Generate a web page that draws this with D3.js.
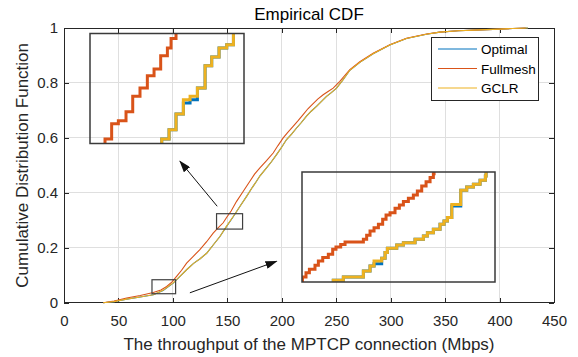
<!DOCTYPE html>
<html>
<head>
<meta charset="utf-8">
<script src="https://cdn.jsdelivr.net/npm/d3@7"></script>
<style>
  body { margin: 0; background: #fff; }
  text { font-family: "Liberation Sans", Arial, Helvetica, sans-serif; }
</style>
</head>
<body>
<div id="chart"></div>
<script>
// ---- main curves: throughput (Mbps) -> empirical CDF
const fullmeshX = [36, 46, 57.5, 70, 82, 89, 94.3, 99, 103.4, 108, 112.6, 118.5, 124.8, 131, 137, 141.5, 146.2, 149.3, 153.5, 158.5, 164.5, 170.7, 175, 179.9, 186, 192.1, 196.5, 201.3, 205.5, 210.4, 215, 219.6, 224, 228.8, 233, 238, 242.5, 247.2, 253.3, 258, 262.5, 271.7, 283.9, 299.2, 314.5, 332.9, 345.1, 362, 382, 400, 412, 424];
const fullmeshF = [0, 0.006, 0.017, 0.026, 0.037, 0.046, 0.059, 0.075, 0.096, 0.118, 0.144, 0.168, 0.193, 0.222, 0.253, 0.272, 0.291, 0.31, 0.334, 0.369, 0.405, 0.442, 0.468, 0.491, 0.517, 0.545, 0.572, 0.6, 0.62, 0.642, 0.663, 0.685, 0.706, 0.725, 0.741, 0.757, 0.769, 0.781, 0.806, 0.828, 0.848, 0.877, 0.908, 0.939, 0.963, 0.978, 0.985, 0.99, 0.993, 0.996, 0.998, 1];

const gclrX = [36, 46, 57.5, 70, 82, 91, 100.3, 106, 112.6, 119, 125, 131, 137, 143.2, 149, 155.4, 161.5, 167.7, 173, 176.8, 180, 186, 190.5, 195.2, 200, 204.4, 209, 213.6, 218, 222.7, 227, 231.9, 236.5, 241.1, 245.5, 250.3, 256, 262.5, 271.7, 283.9, 299.2, 314.5, 332.9, 345.1, 362, 382, 400, 412, 426];
const gclrF = [0, 0.004, 0.013, 0.021, 0.029, 0.045, 0.072, 0.094, 0.12, 0.143, 0.16, 0.18, 0.21, 0.241, 0.277, 0.314, 0.35, 0.387, 0.42, 0.442, 0.462, 0.491, 0.513, 0.539, 0.567, 0.594, 0.614, 0.636, 0.656, 0.679, 0.697, 0.715, 0.733, 0.751, 0.765, 0.781, 0.81, 0.846, 0.875, 0.906, 0.938, 0.962, 0.977, 0.985, 0.99, 0.993, 0.996, 0.998, 1];

const optimalX = [36, 46, 57.5, 70, 82, 91, 100.3, 106, 112.6, 119, 125, 131, 137, 143.2, 149, 155.4, 161.5, 167.7, 173, 176.8, 180, 186, 190.5, 195.2, 200, 204.4, 209, 213.6, 218, 222.7, 227, 231.9, 236.5, 241.1, 245.5, 250.3, 256, 262.5, 271.7, 283.9, 299.2, 314.5, 332.9, 345.1, 362, 382, 400, 412, 426];
const optimalF = [0, 0.004, 0.013, 0.021, 0.029, 0.044, 0.071, 0.094, 0.12, 0.143, 0.16, 0.18, 0.21, 0.241, 0.276, 0.313, 0.35, 0.387, 0.42, 0.442, 0.462, 0.491, 0.513, 0.539, 0.567, 0.594, 0.614, 0.636, 0.656, 0.679, 0.697, 0.715, 0.733, 0.751, 0.765, 0.781, 0.81, 0.846, 0.875, 0.906, 0.938, 0.962, 0.977, 0.985, 0.99, 0.993, 0.996, 0.998, 1];

const seriesNames = ['Optimal', 'Fullmesh', 'GCLR'];
const seriesColors = ['#0072BD', '#D95319', '#EDB120'];

const xTicks = [0, 50, 100, 150, 200, 250, 300, 350, 400, 450];
const yTicks = [0, 0.2, 0.4, 0.6, 0.8, 1];
const yTickLabels = ['0', '0.2', '0.4', '0.6', '0.8', '1'];

// zoomed regions [xMin, xMax, fMin, fMax]
const zoomUpper = [140.1, 164.0, 0.268, 0.324];
const zoomLower = [80.8, 102.5, 0.0327, 0.0836];

// ---- step data shown in the upper zoom
const upperFullmeshX = [141.5, 142.43, 143.46, 144.5, 145.69, 146.73, 147.86, 149.0, 150.04, 151.07, 152.11, 152.68, 153.45];
const upperFullmeshF = [0.266, 0.2703, 0.2781, 0.2796, 0.2842, 0.292, 0.2963, 0.3025, 0.3059, 0.3127, 0.3166, 0.3214, 0.326];
const upperGclrX = [150.5, 151.23, 152.37, 153.45, 154.59, 155.63, 156.77, 157.96, 158.99, 160.13, 161.32, 162.36];
const upperGclrF = [0.266, 0.2703, 0.275, 0.283, 0.2903, 0.292, 0.2963, 0.3076, 0.312, 0.3166, 0.3183, 0.326];
const upperOptimalX = [150.5, 151.23, 152.37, 153.45, 154.59, 155.63, 156.77, 157.96, 158.99, 160.13, 161.32, 162.36];
const upperOptimalF = [0.266, 0.2703, 0.275, 0.283, 0.2886, 0.2903, 0.2963, 0.3076, 0.312, 0.3166, 0.3183, 0.326];

// ---- step data shown in the lower zoom
const lowerFullmeshX = [80.5, 80.85, 81.25, 81.63, 82.26, 82.64, 83.13, 83.76, 84.25, 84.62, 85.15, 85.64, 87.7, 88.07, 88.45, 88.9, 89.39, 89.87, 90.25, 90.7, 91.26, 91.75, 92.2, 92.76, 93.32, 93.77, 94.26, 94.75, 95.2, 95.57, 95.65];
const lowerFullmeshF = [0.032, 0.035, 0.037, 0.0386, 0.0404, 0.0424, 0.044, 0.0455, 0.0478, 0.0489, 0.0501, 0.0512, 0.0525, 0.0543, 0.0563, 0.0578, 0.0594, 0.0617, 0.0637, 0.0648, 0.0668, 0.0683, 0.0699, 0.0714, 0.073, 0.0748, 0.0771, 0.0791, 0.081, 0.0828, 0.0848];
const lowerGclrX = [84.0, 84.32, 85.45, 87.7, 88.45, 88.9, 89.76, 90.14, 90.4, 91.45, 92.2, 93.51, 94.45, 94.9, 95.57, 96.32, 96.77, 97.15, 97.64, 98.65, 99.32, 100.07, 100.82, 101.42, 101.5];
const lowerGclrF = [0.031, 0.0335, 0.035, 0.0378, 0.0401, 0.0424, 0.0437, 0.0463, 0.0483, 0.0498, 0.0509, 0.0525, 0.054, 0.0555, 0.0571, 0.0594, 0.0609, 0.0625, 0.0686, 0.0751, 0.0767, 0.0779, 0.0798, 0.0818, 0.0848];
const lowerOptimalX = [84.0, 84.32, 85.45, 87.7, 88.45, 88.9, 89.76, 90.14, 90.4, 91.45, 92.2, 93.51, 94.45, 94.9, 95.57, 96.32, 96.77, 97.15, 97.64, 98.65, 99.32, 100.07, 100.82, 101.42, 101.5];
const lowerOptimalF = [0.031, 0.0335, 0.035, 0.0378, 0.0401, 0.0412, 0.0437, 0.0463, 0.0483, 0.0498, 0.0509, 0.0525, 0.054, 0.0555, 0.0571, 0.0594, 0.0609, 0.0625, 0.0679, 0.0751, 0.0767, 0.0779, 0.0798, 0.0818, 0.0848];

// arrows [tailX, tailF, headX, headF] in main data units
const arrowUpper = [140.7, 0.351, 106.5, 0.515];
const arrowLower = [115.6, 0.036, 195.2, 0.151];

const width = 578;
const height = 357;
const margin = { top: 28, right: 24, bottom: 54, left: 64 };
const plotW = width - margin.left - margin.right;
const plotH = height - margin.top - margin.bottom - 0.3;
const axisColor = '#262626';
const gridColor = '#dfdfdf';

const svg = d3.select('#chart').append('svg')
  .attr('width', width)
  .attr('height', height);

const x = d3.scaleLinear().domain([0, 450]).range([margin.left, margin.left + plotW]);
const y = d3.scaleLinear().domain([0, 1]).range([margin.top + plotH, margin.top]);

// grid
const grid = svg.append('g').attr('stroke', gridColor).attr('shape-rendering', 'crispEdges');
grid.selectAll('.gx').data(xTicks.slice(1, -1)).join('line')
  .attr('x1', d => x(d)).attr('x2', d => x(d))
  .attr('y1', y(0)).attr('y2', y(1));
grid.selectAll('.gy').data(yTicks.slice(1, -1)).join('line')
  .attr('x1', x(0)).attr('x2', x(450))
  .attr('y1', d => y(d)).attr('y2', d => y(d));

// axes, ticks pointing inside on all four sides
function styleAxis(g, showText) {
  g.select('.domain').remove();
  g.attr('color', axisColor)
    .attr('font-family', '"Liberation Sans", Arial, sans-serif')
    .attr('font-size', 15);
  g.selectAll('line').attr('shape-rendering', 'crispEdges');
  if (!showText) g.selectAll('text').remove();
}
svg.append('g')
  .attr('transform', `translate(0,${y(0)})`)
  .call(d3.axisBottom(x).tickValues(xTicks).tickSizeInner(-5).tickSizeOuter(0).tickPadding(13))
  .call(g => styleAxis(g, true));
svg.append('g')
  .attr('transform', `translate(0,${y(1)})`)
  .call(d3.axisTop(x).tickValues(xTicks).tickSizeInner(-5).tickSizeOuter(0))
  .call(g => styleAxis(g, false));
svg.append('g')
  .attr('transform', `translate(${x(0)},0)`)
  .call(d3.axisLeft(y).tickValues(yTicks).tickFormat((d, i) => yTickLabels[i]).tickSizeInner(-5).tickSizeOuter(0).tickPadding(6))
  .call(g => styleAxis(g, true));
svg.append('g')
  .attr('transform', `translate(${x(450)},0)`)
  .call(d3.axisRight(y).tickValues(yTicks).tickSizeInner(-5).tickSizeOuter(0))
  .call(g => styleAxis(g, false));

svg.append('rect')
  .attr('x', x(0)).attr('y', y(1))
  .attr('width', x(450) - x(0)).attr('height', y(0) - y(1))
  .attr('fill', 'none').attr('stroke', axisColor)
  .attr('shape-rendering', 'crispEdges');

// labels
svg.append('text')
  .attr('x', (x(0) + x(450)) / 2).attr('y', 20)
  .attr('text-anchor', 'middle').attr('font-size', 17).attr('fill', '#000')
  .text('Empirical CDF');
svg.append('text')
  .attr('x', (x(0) + x(450)) / 2).attr('y', 350)
  .attr('text-anchor', 'middle').attr('font-size', 17).attr('fill', axisColor)
  .text('The throughput of the MPTCP connection (Mbps)');
svg.append('text')
  .attr('transform', `translate(28,${(y(0) + y(1)) / 2}) rotate(-90)`)
  .attr('text-anchor', 'middle').attr('font-size', 17).attr('fill', axisColor)
  .text('Cumulative Distribution Function');

// main curves
const toPoints = (xs, fs) => xs.map((v, i) => [v, fs[i]]);
const mainSeries = [
  toPoints(optimalX, optimalF),
  toPoints(fullmeshX, fullmeshF),
  toPoints(gclrX, gclrF)
];
const mainLine = d3.line().x(d => x(d[0])).y(d => y(d[1]));
svg.append('g').selectAll('path').data(mainSeries).join('path')
  .attr('d', mainLine)
  .attr('fill', 'none')
  .attr('stroke', (d, i) => seriesColors[i])
  .attr('stroke-width', 1.1);

// zoom rectangles on the main plot
svg.append('g').selectAll('rect').data([zoomUpper, zoomLower]).join('rect')
  .attr('x', d => x(d[0])).attr('y', d => y(d[3]))
  .attr('width', d => x(d[1]) - x(d[0]))
  .attr('height', d => y(d[2]) - y(d[3]))
  .attr('fill', 'none').attr('stroke', '#404040').attr('stroke-width', 1.2);

// arrows
svg.append('defs').append('marker')
  .attr('id', 'head')
  .attr('viewBox', '0 0 12 8')
  .attr('refX', 11).attr('refY', 4)
  .attr('markerWidth', 12).attr('markerHeight', 8)
  .attr('markerUnits', 'userSpaceOnUse')
  .attr('orient', 'auto')
  .append('path').attr('d', 'M0,0 L12,4 L0,8 Z').attr('fill', '#111');
svg.append('g').selectAll('line').data([arrowUpper, arrowLower]).join('line')
  .attr('x1', d => x(d[0])).attr('y1', d => y(d[1]))
  .attr('x2', d => x(d[2])).attr('y2', d => y(d[3]))
  .attr('stroke', '#111').attr('stroke-width', 1)
  .attr('marker-end', 'url(#head)');

// insets
function drawInset(id, box, zoom, series) {
  const ix = d3.scaleLinear().domain([zoom[0], zoom[1]]).range([box.left, box.left + box.w]);
  const iy = d3.scaleLinear().domain([zoom[2], zoom[3]]).range([box.top + box.h, box.top]);
  svg.append('clipPath').attr('id', id)
    .append('rect').attr('x', box.left).attr('y', box.top).attr('width', box.w).attr('height', box.h);
  const g = svg.append('g');
  const stepLine = d3.line().x(d => ix(d[0])).y(d => iy(d[1])).curve(d3.curveStepAfter);
  g.append('g').attr('clip-path', `url(#${id})`)
    .selectAll('path').data(series).join('path')
    .attr('d', stepLine)
    .attr('fill', 'none')
    .attr('stroke', (d, i) => seriesColors[i])
    .attr('stroke-width', 3);
  g.append('rect')
    .attr('x', box.left).attr('y', box.top).attr('width', box.w).attr('height', box.h)
    .attr('fill', 'none').attr('stroke', '#3a3a3a').attr('stroke-width', 1.5);
}
drawInset('clipUpper', { left: 90, top: 33.5, w: 154, h: 110 }, zoomUpper, [
  toPoints(upperOptimalX, upperOptimalF),
  toPoints(upperFullmeshX, upperFullmeshF),
  toPoints(upperGclrX, upperGclrF)
]);
drawInset('clipLower', { left: 302, top: 172, w: 193, h: 110 }, zoomLower, [
  toPoints(lowerOptimalX, lowerOptimalF),
  toPoints(lowerFullmeshX, lowerFullmeshF),
  toPoints(lowerGclrX, lowerGclrF)
]);

// legend
const legend = svg.append('g').attr('transform', 'translate(431,37)');
legend.append('rect')
  .attr('width', 107).attr('height', 63)
  .attr('fill', '#fff').attr('stroke', axisColor)
  .attr('shape-rendering', 'crispEdges');
const rows = legend.selectAll('g').data(seriesNames).join('g')
  .attr('transform', (d, i) => `translate(0,${12 + i * 19.5})`);
rows.append('line')
  .attr('x1', 7).attr('x2', 46)
  .attr('stroke', (d, i) => seriesColors[i]).attr('stroke-width', 1.1);
rows.append('text')
  .attr('x', 50).attr('y', 5)
  .attr('font-size', 13.5).attr('fill', '#000')
  .text(d => d);
</script>
</body>
</html>
